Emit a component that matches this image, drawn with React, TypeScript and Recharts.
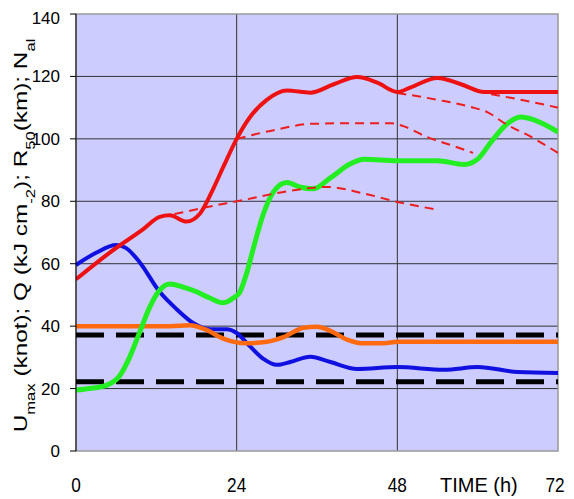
import React from 'react';
import { LineChart, Line, XAxis, YAxis, CartesianGrid, ReferenceArea } from 'recharts';

// time (h), value
const umaxRed = [
  [0, 55], [5, 63.5], [10, 71], [12.5, 75], [14, 75.5], [16.5, 73.5], [18.5, 76],
  [20.5, 84], [22, 91], [24, 100], [26, 107], [28.5, 112.5], [31.5, 115.5], [35, 114.8],
  [38.5, 117.5], [42, 119.8], [45, 118], [48, 115], [50, 116.5], [54, 119.5],
  [57.5, 117.5], [61, 115], [66, 115], [72, 115],
];
const forecastA = [[12.5, 75], [14, 75.6], [19, 77.9], [25, 80.4], [31, 83], [37.5, 84.6], [43, 82.5], [48, 79.8], [53.5, 77.5]];
const forecastB = [[24, 100], [30, 103], [35, 104.8], [41, 105], [47, 105], [49, 104], [52.4, 100.6], [56, 98], [59.3, 95.5]];
const forecastC = [[48, 114.7], [54, 112.5], [59, 110.2], [61.5, 108.5], [64, 105], [68, 100.6], [72, 95.5]];
const forecastD = [[62, 114.3], [67, 112.3], [72, 110]];

const qGreen = [
  [0, 19.5], [2, 20], [4.5, 21], [6.5, 24], [8, 30], [9.5, 38], [11, 46], [12.5, 51.5],
  [14, 53.5], [16, 52.5], [18, 51], [20, 49], [22, 47.5], [23.5, 49], [24.5, 51],
  [25.5, 57], [26.5, 65], [28, 76], [29.5, 83], [31.5, 86], [33.5, 84.5], [35.5, 84],
  [38, 87.5], [41, 92], [43, 93.5], [48, 93], [54, 93], [58, 91.8], [60, 93.5],
  [62, 99], [64.5, 105], [66.5, 107], [68.5, 106], [72, 102.2],
];
const r50Blue = [
  [0, 59.6], [3, 63.5], [6, 66], [7.5, 65], [9.5, 60.5], [12.5, 51], [15, 45.5],
  [17.5, 41], [20, 39], [22.5, 39], [24, 37.8], [26, 33.5], [28, 29.5], [30, 27.6],
  [32, 28.5], [35, 30.2], [38, 28.5], [42, 26.3], [48, 26.9], [55, 26], [60, 26.9],
  [66, 25.3], [72, 25],
];
const nalOrange = [
  [0, 40], [10, 40], [14, 40], [17, 40.3], [19.5, 38.8], [22, 36], [25.5, 34.5],
  [28.5, 35], [31, 36.5], [34, 39.5], [36, 39.8], [38, 38.5], [40.5, 35.7], [43, 34.5],
  [46, 34.5], [48, 35], [72, 35],
];
const thresholds = [37.2, 22.2];

const xTicks = [0, 24, 48, 72];
const yTicks = [0, 20, 40, 60, 80, 100, 120, 140];

const toRows = (pts: number[][]) => pts.map(([t, v]) => ({ t, v }));

const XTick = (props: any) => {
  const { x, y, payload } = props;
  const dx = payload.value === 72 ? -3 : 0;
  return (
    <g transform={`translate(${x + dx},${y}) scale(0.82,1)`}>
      <text x={0} y={0} dy="0.71em" textAnchor="middle" fill="#000"
        fontFamily="'Liberation Sans', Arial" fontSize={21}>
        {payload.value}
      </text>
    </g>
  );
};

const YLabel = (props: any) => {
  const { viewBox } = props;
  const bx = 19;
  const cy = viewBox.y + viewBox.height / 2 + 3;
  const sub = { fontSize: 13, baselineShift: 'sub' } as any;
  return (
    <text x={0} y={0} transform={`translate(${bx},${cy}) rotate(-90) scale(1.28,1)`}
      textAnchor="middle" fontFamily="'Liberation Sans', Arial" fontSize={19} fill="#000">
      <tspan>U</tspan><tspan style={sub}>max</tspan>
      <tspan> (knot); Q (kJ cm</tspan><tspan style={sub}>-2</tspan>
      <tspan>); R</tspan><tspan style={sub}>50</tspan>
      <tspan>(km); N</tspan><tspan style={sub}>al</tspan>
    </text>
  );
};

const XLabel = (props: any) => {
  const { viewBox } = props;
  return (
    <text x={viewBox.x + 364} y={viewBox.y + 41} fontFamily="'Liberation Sans', Arial"
      fontSize={20} fill="#000">
      TIME (h)
    </text>
  );
};

export default function App() {
  return (
    <LineChart width={566} height={491} margin={{ top: 6, right: 16, left: 0, bottom: 0 }}>
      <CartesianGrid fill="#CCCCFF" stroke="#333" strokeWidth={1} fillOpacity={1}
        horizontalValues={[20, 40, 60, 80, 100, 120]} verticalValues={[24, 48]} />
      <ReferenceArea x1={0} x2={72} y1={0} y2={140} fill="none" stroke="#999" strokeWidth={1.5} />
      <XAxis type="number" dataKey="t" domain={[0, 72]} ticks={xTicks} allowDataOverflow
        axisLine={false} tickLine={false} tickSize={0} tickMargin={26} height={48}
        tick={<XTick />} label={<XLabel />} />
      <YAxis type="number" dataKey="v" domain={[0, 140]} ticks={yTicks} width={68}
        axisLine={{ stroke: '#000' }} tickLine={{ stroke: '#000' }} tickSize={6} tickMargin={10}
        tick={{ fill: '#000', fontSize: 17, fontFamily: "'Liberation Sans', Arial" }}
        label={<YLabel />} />
      {thresholds.map((y, i) => (
        <Line key={'th' + i} data={[{ t: 0, v: y }, { t: 72, v: y }]} dataKey="v" stroke="#000"
          strokeWidth={5} strokeDasharray="28 12" dot={false} isAnimationActive={false} />
      ))}
      <Line data={toRows(r50Blue)} dataKey="v" type="monotone" stroke="#1010E0" strokeWidth={4}
        dot={false} isAnimationActive={false} />
      <Line data={toRows(nalOrange)} dataKey="v" type="monotone" stroke="#FF6A10" strokeWidth={4.5}
        dot={false} isAnimationActive={false} />
      <Line data={toRows(qGreen)} dataKey="v" type="monotone" stroke="#22EE22" strokeWidth={5}
        dot={false} isAnimationActive={false} />
      {[forecastA, forecastB, forecastC, forecastD].map((f, i) => (
        <Line key={'fc' + i} data={toRows(f)} dataKey="v" type="monotone" stroke="#EE1C1C"
          strokeWidth={2} strokeDasharray="9 6" dot={false} isAnimationActive={false} />
      ))}
      <Line data={toRows(umaxRed)} dataKey="v" type="monotone" stroke="#EE1111" strokeWidth={4}
        dot={false} isAnimationActive={false} />
    </LineChart>
  );
}
